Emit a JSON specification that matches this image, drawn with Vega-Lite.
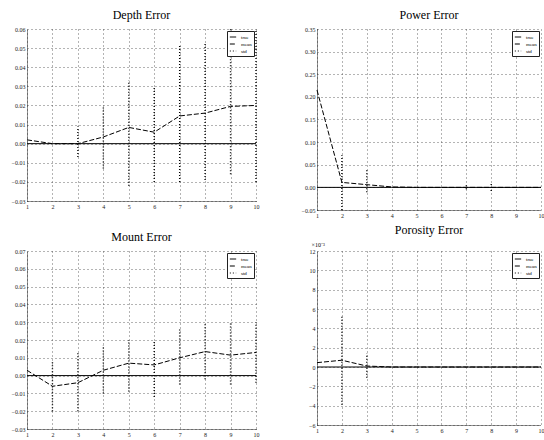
{
  "$schema": "https://vega.github.io/schema/vega-lite/v6.json",
  "background": "white",
  "padding": {"left": 7, "top": 9, "right": 0, "bottom": 0},
  "datasets": {
    "depth": [
      {"x": 1, "truth": 0, "mean": 0.002, "lo": null, "hi": null},
      {"x": 2, "truth": 0, "mean": 0.0, "lo": null, "hi": null},
      {"x": 3, "truth": 0, "mean": 0.0, "lo": -0.007, "hi": 0.009},
      {"x": 4, "truth": 0, "mean": 0.0035, "lo": -0.013, "hi": 0.02},
      {"x": 5, "truth": 0, "mean": 0.0085, "lo": -0.022, "hi": 0.033},
      {"x": 6, "truth": 0, "mean": 0.006, "lo": -0.02, "hi": 0.03},
      {"x": 7, "truth": 0, "mean": 0.0145, "lo": -0.02, "hi": 0.052},
      {"x": 8, "truth": 0, "mean": 0.016, "lo": -0.019, "hi": 0.053},
      {"x": 9, "truth": 0, "mean": 0.0195, "lo": -0.016, "hi": 0.06},
      {"x": 10, "truth": 0, "mean": 0.02, "lo": -0.02, "hi": 0.06}
    ],
    "power": [
      {"x": 1, "truth": 0, "mean": 0.215, "lo": null, "hi": null},
      {"x": 2, "truth": 0, "mean": 0.011, "lo": -0.05, "hi": 0.071},
      {"x": 3, "truth": 0, "mean": 0.006, "lo": -0.011, "hi": 0.038},
      {"x": 4, "truth": 0, "mean": 0.001, "lo": null, "hi": null},
      {"x": 5, "truth": 0, "mean": 0.0, "lo": null, "hi": null},
      {"x": 6, "truth": 0, "mean": 0.0, "lo": null, "hi": null},
      {"x": 7, "truth": 0, "mean": 0.0, "lo": -0.004, "hi": 0.006},
      {"x": 8, "truth": 0, "mean": 0.0, "lo": -0.008, "hi": 0.01},
      {"x": 9, "truth": 0, "mean": 0.0, "lo": null, "hi": null},
      {"x": 10, "truth": 0, "mean": 0.0, "lo": null, "hi": null}
    ],
    "mount": [
      {"x": 1, "truth": 0, "mean": 0.003, "lo": null, "hi": null},
      {"x": 2, "truth": 0, "mean": -0.006, "lo": -0.02, "hi": 0.008},
      {"x": 3, "truth": 0, "mean": -0.004, "lo": -0.02, "hi": 0.013},
      {"x": 4, "truth": 0, "mean": 0.003, "lo": -0.01, "hi": 0.017},
      {"x": 5, "truth": 0, "mean": 0.007, "lo": -0.009, "hi": 0.02},
      {"x": 6, "truth": 0, "mean": 0.006, "lo": -0.012, "hi": 0.019},
      {"x": 7, "truth": 0, "mean": 0.01, "lo": -0.005, "hi": 0.026},
      {"x": 8, "truth": 0, "mean": 0.0135, "lo": -0.002, "hi": 0.03},
      {"x": 9, "truth": 0, "mean": 0.0115, "lo": -0.005, "hi": 0.03},
      {"x": 10, "truth": 0, "mean": 0.013, "lo": -0.004, "hi": 0.03}
    ],
    "porosity": [
      {"x": 1, "truth": 0, "mean": 0.45, "lo": null, "hi": null},
      {"x": 2, "truth": 0, "mean": 0.7, "lo": -3.9, "hi": 5.3},
      {"x": 3, "truth": 0, "mean": 0.1, "lo": -1.1, "hi": 1.4},
      {"x": 4, "truth": 0, "mean": 0.0, "lo": null, "hi": null},
      {"x": 5, "truth": 0, "mean": 0.0, "lo": null, "hi": null},
      {"x": 6, "truth": 0, "mean": 0.0, "lo": null, "hi": null},
      {"x": 7, "truth": 0, "mean": 0.0, "lo": null, "hi": null},
      {"x": 8, "truth": 0, "mean": 0.0, "lo": null, "hi": null},
      {"x": 9, "truth": 0, "mean": 0.0, "lo": null, "hi": null},
      {"x": 10, "truth": 0, "mean": 0.0, "lo": null, "hi": null}
    ]
  },
  "config": {
    "view": {"stroke": null},
    "title": {"font": "Liberation Serif", "fontSize": 12, "fontWeight": "normal", "color": "black", "offset": 4},
    "axis": {
      "labelFont": "Liberation Serif", "labelFontSize": 6, "labelColor": "#222",
      "labelOverlap": false, "labelFlush": false, "tickCount": 30,
      "grid": true, "gridColor": "#444", "gridDash": [1, 3], "gridOpacity": 0.8,
      "domainColor": "#222", "domainDash": [1, 1], "ticks": false, "labelPadding": 2, "title": null
    },
    "axisY": {"minExtent": 20, "maxExtent": 20},
    "legend": {
      "orient": "top-right", "offset": 2, "padding": 2, "rowPadding": 0,
      "strokeColor": "#222", "fillColor": "white", "labelFont": "Liberation Serif",
      "labelFontSize": 5, "symbolSize": 40, "symbolStrokeWidth": 1, "symbolStrokeColor": "black", "title": null
    }
  },
  "spacing": 6,
  "resolve": {"scale": {"strokeDash": "independent"}, "legend": {"strokeDash": "independent"}},
  "vconcat": [
    {
      "spacing": 38,
      "resolve": {"scale": {"strokeDash": "independent"}, "legend": {"strokeDash": "independent"}},
      "hconcat": [
        {
          "title": "Depth Error",
          "width": 229, "height": 172,
          "data": {"name": "depth"},
          "encoding": {"x": {"field": "x", "type": "quantitative", "scale": {"domain": [1, 10], "nice": false}, "axis": {"values": [1,2,3,4,5,6,7,8,9,10], "format": "d", "tickCount": 30}}},
          "layer": [
            {"mark": {"type": "line", "color": "black", "strokeWidth": 1}, "encoding": {"y": {"field": "truth", "type": "quantitative", "scale": {"domain": [-0.03, 0.06], "nice": false}, "axis": {"values": [-0.03,-0.02,-0.01,0,0.01,0.02,0.03,0.04,0.05,0.06], "format": ".2f", "tickCount": 30}}, "strokeDash": {"datum": "true", "type": "nominal", "scale": {"domain": ["true", "mean", "std"], "range": [[1, 0], [5, 2], [1, 2]]}}}},
            {"mark": {"type": "rule", "color": "black", "strokeWidth": 1.4}, "encoding": {"y": {"field": "lo", "type": "quantitative"}, "y2": {"field": "hi"}, "strokeDash": {"datum": "std", "type": "nominal"}}},
            {"mark": {"type": "line", "color": "black", "strokeWidth": 1}, "encoding": {"y": {"field": "mean", "type": "quantitative"}, "strokeDash": {"datum": "mean", "type": "nominal"}}}
          ]
        },
        {
          "title": "Power Error",
          "width": 224, "height": 181,
          "data": {"name": "power"},
          "encoding": {"x": {"field": "x", "type": "quantitative", "scale": {"domain": [1, 10], "nice": false}, "axis": {"values": [1,2,3,4,5,6,7,8,9,10], "format": "d", "tickCount": 30}}},
          "layer": [
            {"mark": {"type": "line", "color": "black", "strokeWidth": 1}, "encoding": {"y": {"field": "truth", "type": "quantitative", "scale": {"domain": [-0.05, 0.35], "nice": false}, "axis": {"values": [-0.05,0,0.05,0.1,0.15,0.2,0.25,0.3,0.35], "format": ".2f", "tickCount": 30}}, "strokeDash": {"datum": "true", "type": "nominal", "scale": {"domain": ["true", "mean", "std"], "range": [[1, 0], [5, 2], [1, 2]]}}}},
            {"mark": {"type": "rule", "color": "black", "strokeWidth": 1.4}, "encoding": {"y": {"field": "lo", "type": "quantitative"}, "y2": {"field": "hi"}, "strokeDash": {"datum": "std", "type": "nominal"}}},
            {"mark": {"type": "line", "color": "black", "strokeWidth": 1}, "encoding": {"y": {"field": "mean", "type": "quantitative"}, "strokeDash": {"datum": "mean", "type": "nominal"}}}
          ]
        }
      ]
    },
    {
      "spacing": 38,
      "resolve": {"scale": {"strokeDash": "independent"}, "legend": {"strokeDash": "independent"}},
      "hconcat": [
        {
          "title": "Mount Error",
          "width": 229, "height": 178,
          "data": {"name": "mount"},
          "encoding": {"x": {"field": "x", "type": "quantitative", "scale": {"domain": [1, 10], "nice": false}, "axis": {"values": [1,2,3,4,5,6,7,8,9,10], "format": "d", "tickCount": 30}}},
          "layer": [
            {"mark": {"type": "line", "color": "black", "strokeWidth": 1}, "encoding": {"y": {"field": "truth", "type": "quantitative", "scale": {"domain": [-0.03, 0.07], "nice": false}, "axis": {"values": [-0.03,-0.02,-0.01,0,0.01,0.02,0.03,0.04,0.05,0.06,0.07], "format": ".2f", "tickCount": 30}}, "strokeDash": {"datum": "true", "type": "nominal", "scale": {"domain": ["true", "mean", "std"], "range": [[1, 0], [5, 2], [1, 2]]}}}},
            {"mark": {"type": "rule", "color": "black", "strokeWidth": 1.4}, "encoding": {"y": {"field": "lo", "type": "quantitative"}, "y2": {"field": "hi"}, "strokeDash": {"datum": "std", "type": "nominal"}}},
            {"mark": {"type": "line", "color": "black", "strokeWidth": 1}, "encoding": {"y": {"field": "mean", "type": "quantitative"}, "strokeDash": {"datum": "mean", "type": "nominal"}}}
          ]
        },
        {
          "title": "Porosity Error",
          "width": 224, "height": 174,
          "data": {"name": "porosity"},
          "encoding": {"x": {"field": "x", "type": "quantitative", "scale": {"domain": [1, 10], "nice": false}, "axis": {"values": [1,2,3,4,5,6,7,8,9,10], "format": "d", "tickCount": 30}}},
          "layer": [
            {"mark": {"type": "line", "color": "black", "strokeWidth": 1}, "encoding": {"y": {"field": "truth", "type": "quantitative", "scale": {"domain": [-6, 12], "nice": false}, "axis": {"values": [-6,-4,-2,0,2,4,6,8,10,12], "format": "d", "tickCount": 30, "title": "×10⁻³", "titleAngle": 0, "titleFontSize": 6, "titleFont": "Liberation Serif", "titleFontWeight": "normal", "titleX": -6, "titleY": -4, "titleAlign": "left"}}, "strokeDash": {"datum": "true", "type": "nominal", "scale": {"domain": ["true", "mean", "std"], "range": [[1, 0], [5, 2], [1, 2]]}}}},
            {"mark": {"type": "rule", "color": "black", "strokeWidth": 1.4}, "encoding": {"y": {"field": "lo", "type": "quantitative"}, "y2": {"field": "hi"}, "strokeDash": {"datum": "std", "type": "nominal"}}},
            {"mark": {"type": "line", "color": "black", "strokeWidth": 1}, "encoding": {"y": {"field": "mean", "type": "quantitative"}, "strokeDash": {"datum": "mean", "type": "nominal"}}}
          ]
        }
      ]
    }
  ]
}
